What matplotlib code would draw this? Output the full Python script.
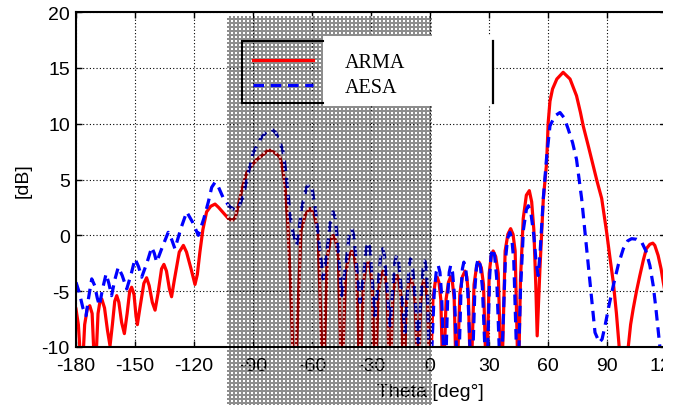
import numpy as np
import matplotlib
matplotlib.use("Agg")
import matplotlib.pyplot as plt
from matplotlib.patches import Rectangle
from matplotlib.lines import Line2D

# ---------------- data ----------------
arma_theta = [
    -180, -178.8, -177.0, -175.6, -174.3, -173.0, -171.8, -170.3, -168.8, -167.8,
    -166.9, -165.5, -164.0, -162.7, -161.5, -160.3, -159.3, -158.2, -156.8, -155.4,
    -154.0, -152.7, -151.7, -150.5, -149.5, -148.8, -147.5, -145.5, -144.1, -142.8,
    -141.2, -139.8, -138.3, -136.5, -135.3, -134.0, -132.5, -131.4, -130.0, -127.5,
    -125.4, -123.8, -121.5, -119.5, -118.3, -117.0, -115.5, -113.6, -111.5, -109.3,
    -107.5, -105.0, -102.5, -100.5, -99.0, -97.5, -95.5, -93.2, -90.5, -88.0,
    -85.0, -82.5, -81.0, -79.0, -76.3, -75.0, -73.7, -72.3, -71.0, -69.8, -68.7,
    -65.6, -63.3, -61.0, -59.0, -57.0, -54.3,
    -52.3, -50.7, -49.2, -47.9, -46.6, -44.9,
    -42.9, -41.3, -39.8, -38.5, -37.3, -35.6,
    -33.9, -32.7, -31.4, -30.4, -29.4, -28.0,
    -26.3, -25.1, -23.8, -22.8, -21.8, -20.4,
    -18.9, -17.8, -16.7, -15.7, -14.7, -13.3,
    -12.0, -10.9, -9.9, -8.7, -7.6, -6.0,
    -4.8, -4.0, -3.1, -2.2, -1.2, 0.0,
    1.5, 2.6, 3.7, 4.6, 5.5, 6.7,
    8.2, 9.4, 10.5, 11.4, 12.3, 13.5,
    15.2, 16.5, 17.8, 18.7, 19.5, 20.7,
    22.4, 23.6, 24.9, 26.1, 27.2, 28.8,
    30.1, 31.1, 32.1, 33.4, 34.7, 36.4,
    38.2, 39.6, 41.0, 42.2, 43.3, 44.9,
    46.0, 47.4, 49.0, 50.5, 51.7, 52.8, 53.8, 54.5, 55.2, 55.9,
    57.6, 59.3, 60.1, 61.0, 62.3, 64.5, 67.7, 71.2, 74.5, 76.5,
    77.9, 80.5, 83.0, 85.0, 87.3, 89.8, 91.5, 93.2, 94.8, 96.2,
    98.5, 100.8, 102.0, 103.3, 105.0, 106.7, 108.5, 110.0, 111.8, 113.3,
    114.3, 116.0, 117.5, 118.6, 120.0,
]
arma_db = [
    -6.6, -8.0, -13, -8.0, -6.6, -6.3, -7.0, -13, -7.0, -5.9,
    -5.7, -6.5, -8.5, -9.9, -8.0, -5.9, -5.4, -6.0, -7.8, -8.8,
    -7.0, -5.0, -4.65, -5.3, -7.2, -8.0, -6.5, -4.3, -3.8, -4.5,
    -6.0, -6.7, -5.2, -3.0, -2.6, -3.2, -4.8, -5.5, -4.0, -1.5,
    -0.9, -1.5, -3.0, -4.4, -3.5, -1.5, 0.5, 2.1, 2.6, 2.8,
    2.5, 2.0, 1.5, 1.35, 1.6, 2.6, 4.2, 5.6, 6.3, 6.8,
    7.2, 7.6, 7.6, 7.4, 7.0, 6.0, 4.5, 1.0, -4.0, -10.0, -14,
    0.4, 1.9, 2.4, 1.9, 0.4, -14,
    -2.0, -0.5, 0.0, -0.5, -2.0, -14,
    -3.4, -1.9, -1.4, -1.9, -3.4, -14,
    -4.4, -2.9, -2.4, -2.9, -4.4, -14,
    -5.2, -3.7, -3.2, -3.7, -5.2, -14,
    -5.6, -4.1, -3.6, -4.1, -5.6, -14,
    -5.9, -4.4, -3.9, -4.4, -5.9, -14,
    -6.05, -4.55, -4.05, -4.55, -6.05, -14,
    -5.75, -4.25, -3.75, -4.25, -5.75, -14,
    -5.7, -4.2, -3.7, -4.2, -5.7, -14,
    -5.2, -3.7, -3.2, -3.7, -5.2, -14,
    -4.4, -2.9, -2.4, -2.9, -4.4, -14,
    -3.4, -1.9, -1.4, -1.9, -3.4, -14,
    -1.4, 0.1, 0.6, 0.1, -1.4, -14,
    -4.0, 1.5, 3.6, 4.0, 3.0, 0.5, -4.5, -9.0, -6.0, -3.0,
    3.2, 6.5, 10.1, 12.0, 13.1, 14.0, 14.6, 14.0, 12.5, 11.0,
    9.8, 8.0, 6.2, 4.8, 3.3, 0.3, -2.0, -4.2, -7.0, -10.0,
    -16, -10.0, -8.0, -6.6, -5.0, -3.6, -2.2, -1.2, -0.8, -0.7,
    -0.9, -1.8, -3.0, -4.2, -5.5,
]

aesa_theta = [
    -180, -178.2, -176.5, -174.9, -173.6, -172.0, -170.5, -169.2, -168.1, -166.5,
    -164.7, -163.3, -161.9, -160.3, -158.5, -156.5, -154.2, -152.0, -150.0, -148.2,
    -146.6, -144.0, -141.5, -140.2, -139.0, -136.0, -133.1, -131.3, -129.7, -126.7,
    -123.7, -120.8, -117.8, -115.0, -112.7, -111.0, -109.3, -107.5, -105.0, -102.0,
    -99.5, -97.5, -95.0, -92.5, -89.9, -86.0, -83.0, -80.5, -78.5, -76.5,
    -74.6, -73.2, -72.1, -71.2, -69.5, -67.8, -66.5, -65.3, -62.8, -61.0,
    -59.8, -58.5, -55.9, -54.3,
    -51.75, -50.5, -49.2, -48.1, -47.05, -44.9,
    -42.35, -41.1, -39.8, -38.75, -37.7, -35.6,
    -33.5, -32.45, -31.4, -30.55, -29.7, -28.0,
    -26.05, -25.08, -24.1, -23.18, -22.25, -20.4,
    -18.7, -17.85, -17.0, -15.93, -14.85, -12.7,
    -11.3, -10.6, -9.9, -8.95, -7.95, -6.0,
    -4.3, -3.45, -2.6, -1.95, -1.3, 0.0,
    2.1, 3.15, 4.2, 5.05, 5.9, 7.6,
    9.05, 9.78, 10.5, 11.45, 12.4, 14.3,
    15.75, 16.48, 17.2, 18.2, 19.2, 21.2,
    22.85, 23.68, 24.5, 25.58, 26.65, 28.8,
    30.3, 31.05, 31.8, 32.85, 33.9, 36.0,
    38.3, 39.45, 40.6, 41.6, 42.6, 44.6,
    46.0, 47.5, 49.0, 50.0, 51.3, 52.8, 54.0, 55.0, 56.0, 57.6,
    59.3, 61.0, 63.5, 66.1, 68.3, 70.3, 72.5, 74.5, 77.1, 78.8,
    80.5, 82.2, 83.9, 86.1, 87.5, 89.0, 91.0, 93.2, 95.8, 98.3,
    100.5, 102.5, 105.0, 107.6, 109.8, 111.8, 113.5, 114.9, 116.9, 118.5,
]
aesa_db = [
    -4.2, -5.2, -6.5, -7.2, -5.6, -3.9, -4.5, -5.6, -6.3, -4.8,
    -3.45, -4.3, -5.4, -4.0, -2.85, -3.6, -4.8, -3.5, -2.1, -2.8,
    -3.75, -2.5, -1.07, -1.6, -2.4, -1.0, 0.27, -0.4, -1.2, 0.6,
    2.1, 1.2, 0.0, 1.5, 3.0, 4.3, 4.75, 4.3, 3.3, 2.6,
    2.3, 2.4, 3.5, 5.5, 7.4, 8.7, 9.3, 9.5, 9.2, 8.5,
    7.4, 5.5, 3.55, 1.8, 0.1, -0.9, 0.6, 2.4, 4.3, 4.6,
    4.0, 2.65, -1.5, -3.9,
    -0.5, 1.5, 2.1, 1.5, -0.5, -5.4,
    -2.0, 0.0, 0.57, 0.0, -2.0, -6.0,
    -3.2, -1.2, -0.6, -1.2, -3.2, -7.2,
    -3.8, -1.8, -1.2, -1.8, -3.8, -8.1,
    -4.4, -2.4, -1.8, -2.4, -4.4, -8.7,
    -4.7, -2.7, -2.1, -2.7, -4.7, -9.6,
    -4.9, -2.9, -2.3, -2.9, -4.9, -14,
    -5.3, -3.3, -2.7, -3.3, -5.3, -14,
    -5.3, -3.3, -2.7, -3.3, -5.3, -14,
    -5.0, -3.0, -2.4, -3.0, -5.0, -14,
    -4.7, -2.7, -2.1, -2.7, -4.7, -14,
    -3.8, -1.8, -1.2, -1.8, -3.8, -14,
    -2.3, -0.3, 0.27, -0.3, -2.3, -14,
    -5.0, 0.5, 2.3, 2.65, 2.0, 0.0, -2.5, -3.6, -1.5, 3.3,
    7.0, 9.8, 10.7, 11.0, 10.5, 9.5, 8.3, 6.8, 3.3, 0.3,
    -2.7, -5.7, -8.7, -9.6, -9.3, -8.1, -6.3, -4.5, -2.6, -1.2,
    -0.5, -0.3, -0.35, -0.6, -1.4, -2.7, -4.5, -6.6, -10.0, -13,
]

series_labels = ["ARMA", "AESA"]
x_ticks = [-180, -150, -120, -90, -60, -30, 0, 30, 60, 90, 120]
y_ticks = [-10, -5, 0, 5, 10, 15, 20]

# ---------------- figure ----------------
plt.rcParams["font.family"] = ["Liberation Sans", "DejaVu Sans"]
plt.rcParams["axes.unicode_minus"] = False

W, H = 678, 406
fig = plt.figure(figsize=(W / 100, H / 100), dpi=100)
fig.patch.set_facecolor("white")

ax_l, ax_r, ax_t, ax_b = 76, 666, 13, 348
ax = fig.add_axes([ax_l / W, (H - ax_b) / H, (ax_r - ax_l) / W, (ax_b - ax_t) / H])

l1, = ax.plot(arma_theta, arma_db, color="#ff0000", lw=2.3, solid_joinstyle="round")
l2, = ax.plot(aesa_theta, aesa_db, color="#0000ff", lw=2.3, linestyle=(0, (3.3, 2.1)))

ax.set_xlim(-180, 120)
ax.set_ylim(-10, 20)
ax.set_xticks(x_ticks)
ax.set_yticks(y_ticks)
ax.grid(True, color="black", linestyle=(0, (1, 2)), linewidth=0.8)
for s in ax.spines.values():
    s.set_linewidth(1.5)
ax.tick_params(direction="in", length=4, width=1, top=True, right=True, labelsize=14)
ax.tick_params(axis="x", pad=7)
ax.tick_params(axis="y", pad=4.5)

ax.set_xlabel("Theta [deg°]", fontsize=14)
ax.xaxis.set_label_coords(0.6, -0.108)
ax.set_ylabel("[dB]", fontsize=14)
ax.yaxis.set_label_coords((32 - ax_l) / (ax_r - ax_l), 0.5)

# white area behind the legend text (covers grid & overlay)
fig.add_artist(Rectangle((323 / W, (H - 107) / H), (492 - 323) / W, (107 - 37) / H,
                         transform=fig.transFigure, facecolor="white",
                         edgecolor="none", zorder=1))

# dotted grey overlay band
ox0, ox1, oy0 = 227, 432, 17
oh, ow = H - oy0, ox1 - ox0
yy, xx = np.mgrid[0:oh, 0:ow]
white = ((xx % 4) < 2) & ((yy % 4) < 2)
pat = np.zeros((oh, ow, 4))
pat[..., 3] = 0.45
pat[white] = [1.0, 1.0, 1.0, 0.75]
pat[37 - oy0:107 - oy0, 323 - ox0:] = 0.0
fig.figimage(pat, xo=ox0, yo=0, origin="upper", zorder=2)

# legend frame pieces
def fline(xs, ys, lw=1.5):
    fig.add_artist(Line2D([x / W for x in xs], [(H - y) / H for y in ys],
                          transform=fig.transFigure, color="black", lw=lw, zorder=3))

fline([242, 323], [42.3, 42.3])
fline([242, 323], [104.3, 104.3])
fline([242, 242], [42.3, 104.3])
fline([492.7, 492.7], [42.3, 104.3], lw=1.6)

leg = fig.legend([l1, l2], series_labels, loc="upper left",
                 bbox_to_anchor=(253 / W, (H - 54) / H), frameon=False,
                 borderpad=0, borderaxespad=0, handlelength=2.98,
                 handletextpad=1.6, labelspacing=0.3,
                 prop={"family": "Liberation Serif", "size": 14.5})
leg.set_zorder(4)

# cropped right edge of the source image
fig.add_artist(Rectangle((663 / W, 0), (W - 663) / W, 1, transform=fig.transFigure,
                         facecolor="white", edgecolor="none", zorder=10))

fig.savefig("out.png", dpi=100)
